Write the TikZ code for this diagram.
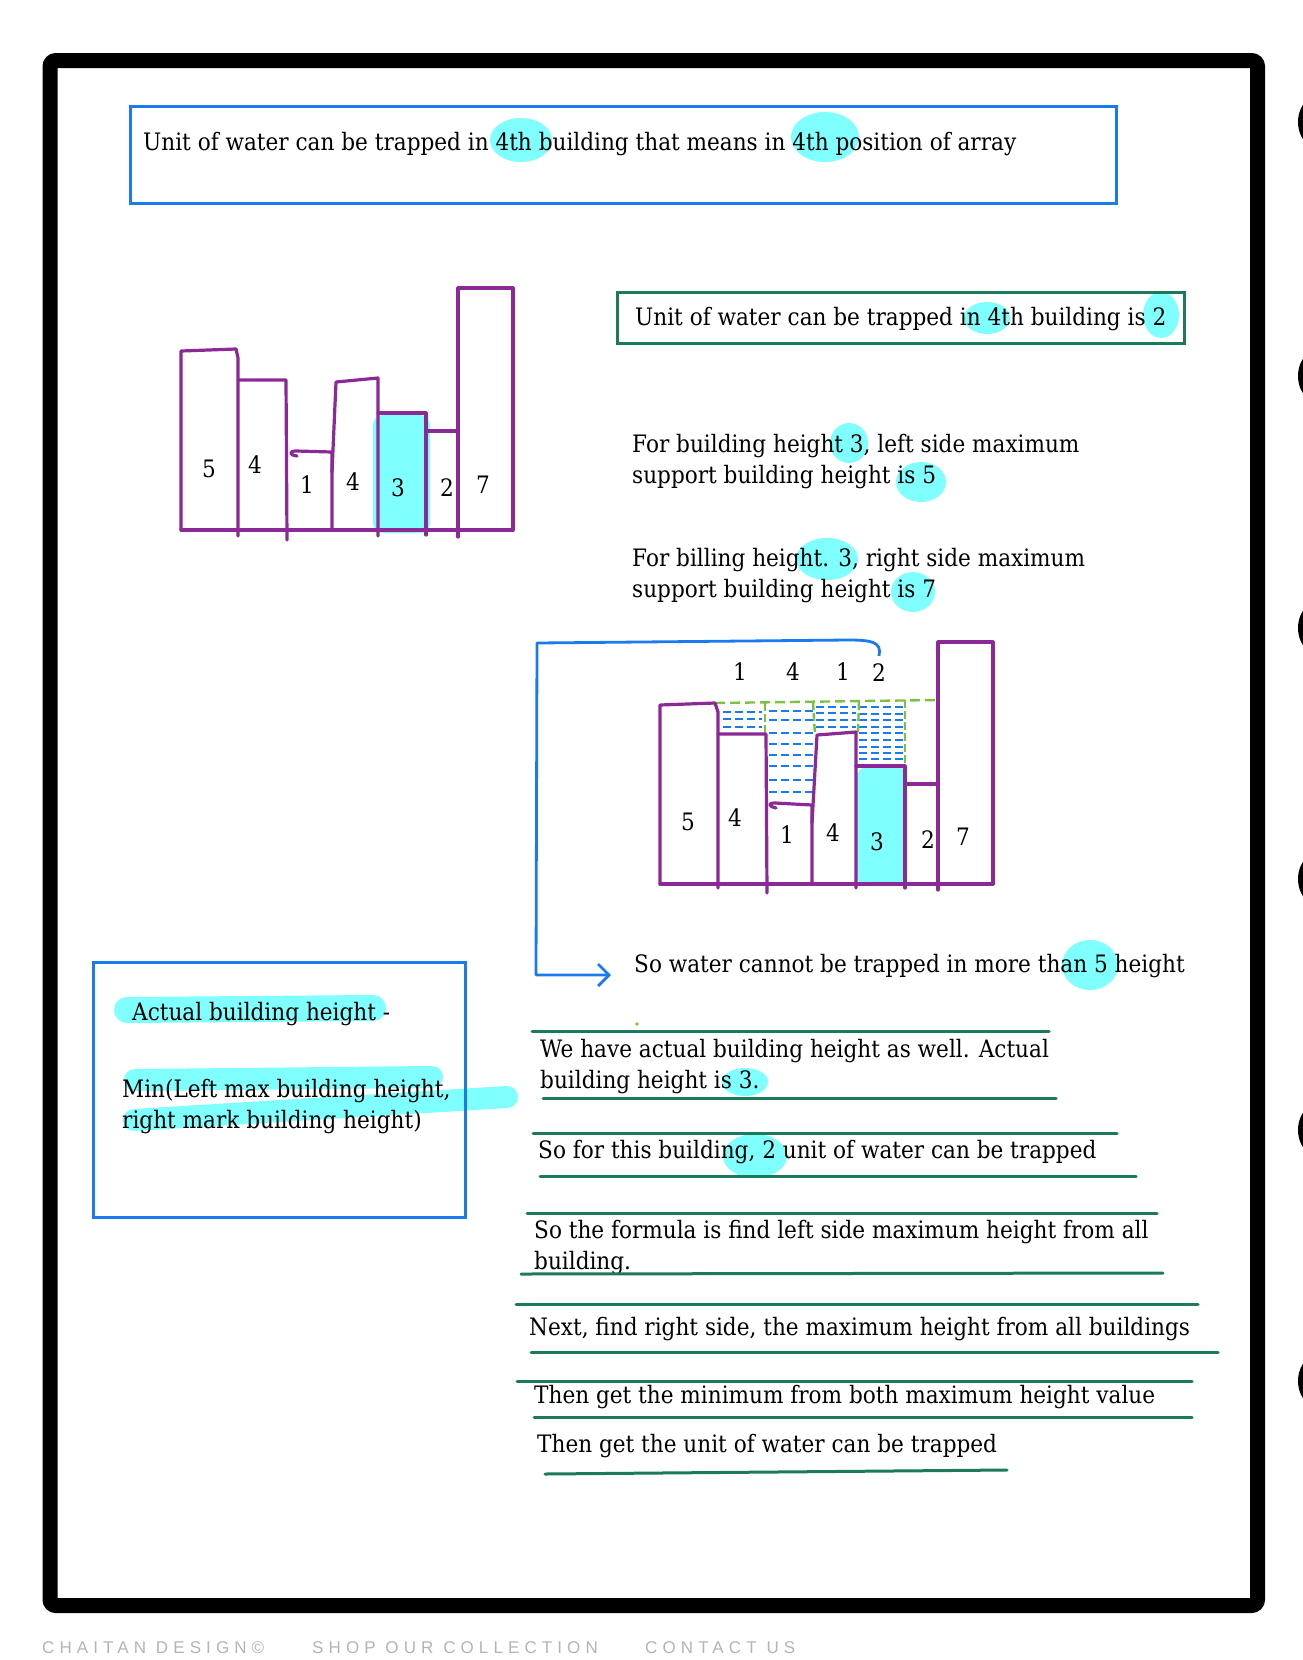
\documentclass[tikz,border=0pt]{standalone}
\usepackage{fontspec}
\setmainfont{DejaVu Serif}[FakeStretch=0.9]
\newfontfamily\footfont{Liberation Sans}[LetterSpace=30]
\usetikzlibrary{arrows.meta}
\definecolor{bpurple}{HTML}{8B2A96}
\definecolor{bblue}{HTML}{1A7AF0}
\definecolor{hlcyan}{HTML}{80FFFF}
\definecolor{dgreen}{HTML}{1C7A5B}
\definecolor{lgreen}{HTML}{7CC242}
\definecolor{footgray}{HTML}{B4B4B4}
\begin{document}
\begin{tikzpicture}[x=1pt,y=-1pt,
  txt/.style={anchor=base west, inner sep=0pt, font=\fontsize{24}{31}\selectfont, align=left},
  digit/.style={inner sep=0pt, font=\fontsize{24}{24}\selectfont},
  bar/.style={draw=bpurple, line width=3.2pt, line join=round, line cap=round},
  bluebox/.style={draw=bblue, line width=3pt, inner sep=0pt},
  greenbox/.style={draw=dgreen, line width=3pt, inner sep=0pt},
  uline/.style={draw=dgreen, line width=3pt, line cap=round},
  hl/.style={fill=hlcyan},
  hlstroke/.style={draw=hlcyan, line cap=round},
  water/.style={draw=bblue, line width=2.4pt, dash pattern=on 8pt off 4pt},
  level/.style={draw=lgreen, line width=2.4pt, dash pattern=on 10pt off 5pt},
  levelv/.style={draw=lgreen, line width=2.4pt, dash pattern=on 8pt off 3pt},
  conn/.style={draw=bblue, line width=2.8pt, line join=round},
  ring/.style={draw=black, line width=6pt},
  foot/.style={anchor=north west, inner sep=0pt, text=footgray, font=\footfont\fontsize{17}{17}\selectfont}]
\useasboundingbox (0,0) rectangle (1302,1660);
\fill[white] (0,0) rectangle (1302,1660);

% frame
\draw[line width=15pt, rounded corners=6pt] (50,60.5) rectangle (1257.5,1605.5);
% partial rings at right edge
\foreach \yy in {122,376,628,879,1130,1381} \draw[ring] (1331,\yy) circle (30pt);

% highlights
\fill[hl] (521,140) ellipse [x radius=31pt, y radius=22pt];
\fill[hl] (825,137) ellipse [x radius=34pt, y radius=25pt];
\fill[hl] (987,318) ellipse [x radius=23pt, y radius=16pt];
\fill[hl] (1161,315) ellipse [x radius=18pt, y radius=23pt];
\fill[hl] (849,443) ellipse [x radius=19pt, y radius=20pt];
\fill[hl] (921,482) ellipse [x radius=25pt, y radius=20pt];
\fill[hl] (827,559) ellipse [x radius=31pt, y radius=21pt];
\fill[hl] (913,592) ellipse [x radius=22pt, y radius=20pt];
\fill[hl] (1090,965) ellipse [x radius=28pt, y radius=25pt];
\fill[hl] (745,1082) ellipse [x radius=23pt, y radius=14pt];
\fill[hl] (755,1156) ellipse [x radius=32pt, y radius=22pt];
\fill[hl, rounded corners=10pt] (373,415) rectangle (430,533);
\fill[hl, rounded corners=10pt] (857,767) rectangle (907,886);
\draw[hlstroke, line width=26pt] (127,1010) -- (373,1008);
\draw[hlstroke, line width=22pt] (135,1080) -- (432,1077);
\draw[hlstroke, line width=22pt] (134,1120) -- (507,1097);

% boxes
\node[bluebox, minimum width=986pt, minimum height=97pt] (topbox) at (623,154.5) {};
\node[greenbox, minimum width=567pt, minimum height=51pt] (gbox) at (900.5,317.5) {};
\node[bluebox, minimum width=372pt, minimum height=255pt] (fbox) at (279,1089.5) {};

% texts (multi-line nodes are placed by the baseline of their last line)
\node[txt] (t1) at (143,150) {Unit of water can be trapped in 4th building that means in 4th position of array};
\node[txt] (t2) at (635,325) {Unit of water can be trapped in 4th building is 2};
\node[txt] (t3) at (632,483) {For building height 3, left side maximum\\support building height is 5};
\node[txt] (t4) at (632,597) {For billing height. 3, right side maximum\\support building height is 7};
\node[txt] (t5) at (634,972) {So water cannot be trapped in more than 5 height};
\node[txt] (t6) at (540,1088) {We have actual building height as well. Actual\\building height is 3.};
\node[txt] (t7) at (538,1158) {So for this building, 2 unit of water can be trapped};
\node[txt] (t8) at (534,1269) {So the formula is find left side maximum height from all\\building.};
\node[txt] (t9) at (529,1335) {Next, find right side, the maximum height from all buildings};
\node[txt] (t10) at (534,1403) {Then get the minimum from both maximum height value};
\node[txt] (t11) at (537,1452) {Then get the unit of water can be trapped};
\node[txt] (f1) at (132,1020) {Actual building height -};
\node[txt] (f2) at (122,1128) {Min(Left max building height,\\right mark building height)};

% underlines
\draw[uline] (532,1031) -- (1049,1031);
\draw[uline] (543,1098) -- (1056,1098);
\draw[uline] (533,1133) -- (1117,1133);
\draw[uline] (540,1176) -- (1136,1176);
\draw[uline] (527,1213) -- (1157,1213);
\draw[uline] (521,1274) -- (1163,1273);
\draw[uline] (516,1304) -- (1198,1304);
\draw[uline] (531,1352) -- (1218,1352);
\draw[uline] (517,1381) -- (1192,1381);
\draw[uline] (534,1417) -- (1192,1417);
\draw[uline] (545,1474) -- (1007,1470);
\fill[lgreen] (637,1024) circle (1.8pt);

% chart 1
\draw[bar] (181,530) -- (513,530);
\draw[bar] (181,530) -- (181,351) -- (236,349) -- (238,358) -- (238,536);
\draw[bar] (238,380) -- (286,380) -- (287,540);
\draw[bar] (297,456) .. controls (289,455) and (289,451) .. (296,451) -- (332,452) -- (332,530);
\draw[bar] (332,472) -- (336,382) -- (378,378) -- (378,536);
\draw[bar] (378,413) -- (426,413) -- (426,535);
\draw[bar] (426,431) -- (458,431);
\draw[bar] (458,537) -- (458,288) -- (513,288) -- (513,530);
\node[digit] (a1) at (209,469) {5};
\node[digit] (a2) at (255,465) {4};
\node[digit] (a3) at (307,485) {1};
\node[digit] (a4) at (353,482) {4};
\node[digit] (a5) at (398,488) {3};
\node[digit] (a6) at (447,488) {2};
\node[digit] (a7) at (483,485) {7};

% chart 2 water
\foreach \yy in {712,719,727} \draw[water] (723,\yy) -- (762,\yy);
\foreach \yy in {711,720,733,744,755,766,780,792} \draw[water] (769,\yy) -- (813,\yy);
\foreach \yy in {707,713,720,727} \draw[water] (816,\yy) -- (856,\yy);
\foreach \yy in {707,714,720,727,733,740,747,753,759} \draw[water] (859,\yy) -- (904,\yy);
\draw[level] (715,703) -- (938,700);
\draw[levelv] (765,703) -- (765,733);
\draw[levelv] (813,702) -- (815,735);
\draw[levelv] (859,702) -- (858,732);
\draw[levelv] (905,700) -- (905,767);

% chart 2
\draw[bar] (660,884) -- (993,884);
\draw[bar] (660,884) -- (660,705) -- (715,703) -- (718,712) -- (718,888);
\draw[bar] (718,734) -- (766,734) -- (767,893);
\draw[bar] (776,808) .. controls (768,806) and (768,803) .. (775,803) -- (812,805) -- (812,884);
\draw[bar] (812,823) -- (817,735) -- (856,732) -- (856,888);
\draw[bar] (856,766) -- (905,766) -- (905,888);
\draw[bar] (905,784) -- (938,784);
\draw[bar] (938,890) -- (938,642) -- (993,642) -- (993,884);
\node[digit] (b1) at (688,822) {5};
\node[digit] (b2) at (735,818) {4};
\node[digit] (b3) at (787,835) {1};
\node[digit] (b4) at (833,833) {4};
\node[digit] (b5) at (877,842) {3};
\node[digit] (b6) at (928,840) {2};
\node[digit] (b7) at (963,837) {7};
\node[digit] (c1) at (740,672) {1};
\node[digit] (c2) at (793,672) {4};
\node[digit] (c3) at (843,672) {1};
\node[digit] (c4) at (879,673) {2};

% connector
\coordinate (tip) at (611,975);
\draw[conn, -{Straight Barb[length=11pt,width=22pt]}] ([yshift=8pt]c4.north) .. controls (882,642) and (872,640) .. (848,640) -- (537,643) -- (536,975) -- (tip);

% footer
\node[foot] (ft1) at (42,1641) {CHAITAN DESIGN\textcopyright};
\node[foot] (ft2) at (312,1641) {SHOP OUR COLLECTION};
\node[foot] (ft3) at (645,1641) {CONTACT US};
\end{tikzpicture}
\end{document}
